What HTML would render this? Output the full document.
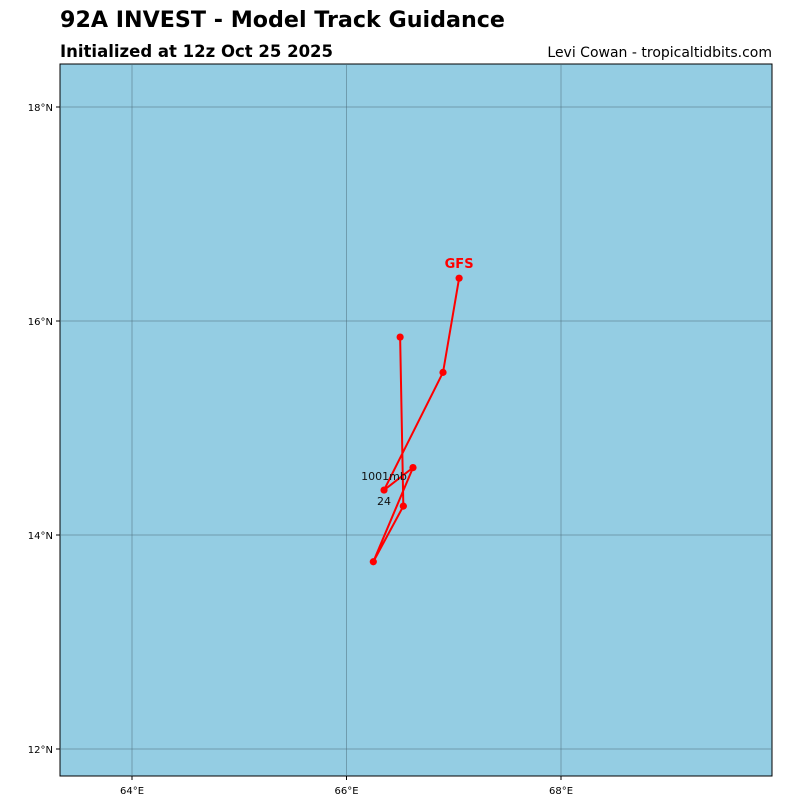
<!DOCTYPE html>
<html><head><meta charset="utf-8"><style>
body{margin:0;background:#fff;width:800px;height:800px;overflow:hidden;font-family:"Liberation Sans","DejaVu Sans",sans-serif}
</style></head><body>
<svg id="chart" width="800" height="800" xmlns="http://www.w3.org/2000/svg">
<text x="60" y="27" font-size="22.2" font-weight="bold" fill="#000" font-family="DejaVu Sans, sans-serif">92A INVEST - Model Track Guidance</text>
<text x="60" y="57" font-size="16.5" font-weight="bold" fill="#000" font-family="DejaVu Sans, sans-serif">Initialized at 12z Oct 25 2025</text>
<text x="772" y="57" font-size="14" text-anchor="end" fill="#000" font-family="DejaVu Sans, sans-serif">Levi Cowan - tropicaltidbits.com</text>
<rect x="60" y="64" width="712" height="712" fill="#94cde3" stroke="#000" stroke-width="1"/>
<g id="grid"></g>
<g id="track"></g>
</svg>
<script>
const lonTicks=[64,66,68];
const latTicks=[18,16,14,12];
const gfsLon=[66.50,66.53,66.25,66.62,66.35,66.90,67.05];
const gfsLat=[15.85,14.27,13.75,14.63,14.42,15.52,16.40];
const labelIdx=4;
const labelPressure="1001mb";
const labelHour="24";
const modelName="GFS";
const NS="http://www.w3.org/2000/svg";
function xs(lon){return 132+(lon-64)*107.25;}
function ys(lat){return 107+(18-lat)*107;}
function mk(tag,attrs,parent,text){const e=document.createElementNS(NS,tag);for(const k in attrs)e.setAttribute(k,attrs[k]);if(text!==undefined)e.textContent=text;parent.appendChild(e);return e;}
const grid=document.getElementById('grid');
lonTicks.forEach(l=>{
  const x=xs(l);
  const ln=mk('line',{x1:x,x2:x,y1:64,y2:776,stroke:'#4a6a78','stroke-width':0.5},grid);
  
  
  mk('line',{x1:x,x2:x,y1:776,y2:780,stroke:'#000'},grid);
  const t=mk('text',{x:x,y:794,'font-size':10,'text-anchor':'middle','font-family':'DejaVu Sans, sans-serif'},grid,l+'°E');
  
  
});
latTicks.forEach(l=>{
  const y=ys(l);
  const ln=mk('line',{x1:60,x2:772,y1:y,y2:y,stroke:'#4a6a78','stroke-width':0.5},grid);
  
  
  mk('line',{x1:56,x2:60,y1:y,y2:y,stroke:'#000'},grid);
  const t=mk('text',{x:53,y:y+4,'font-size':10,'text-anchor':'end','font-family':'DejaVu Sans, sans-serif'},grid,l+'°N');
  
  
});
const tr=document.getElementById('track');
const pts=gfsLon.map((lo,i)=>xs(lo)+','+ys(gfsLat[i])).join(' ');
const pl=mk('polyline',{points:pts,fill:'none',stroke:'#ff0000','stroke-width':2},tr);


gfsLon.forEach((lo,i)=>{
  const c=mk('circle',{cx:xs(lo),cy:ys(gfsLat[i]),r:3.6,fill:'#ff0000'},tr);
  
  
});
const lx=xs(gfsLon[labelIdx]), ly=ys(gfsLat[labelIdx]);
const p=mk('text',{x:lx,y:ly-10,'font-size':11,'text-anchor':'middle','font-family':'DejaVu Sans, sans-serif',fill:'#111'},tr,labelPressure);


const h=mk('text',{x:lx,y:ly+15,'font-size':11,'text-anchor':'middle','font-family':'DejaVu Sans, sans-serif',fill:'#111'},tr,labelHour);


const last=gfsLon.length-1;
const g=mk('text',{x:xs(gfsLon[last]),y:ys(gfsLat[last])-10,'font-size':13,'font-weight':'bold','text-anchor':'middle','font-family':'DejaVu Sans, sans-serif',fill:'#ff0000'},tr,modelName);


</script>
</body></html>
